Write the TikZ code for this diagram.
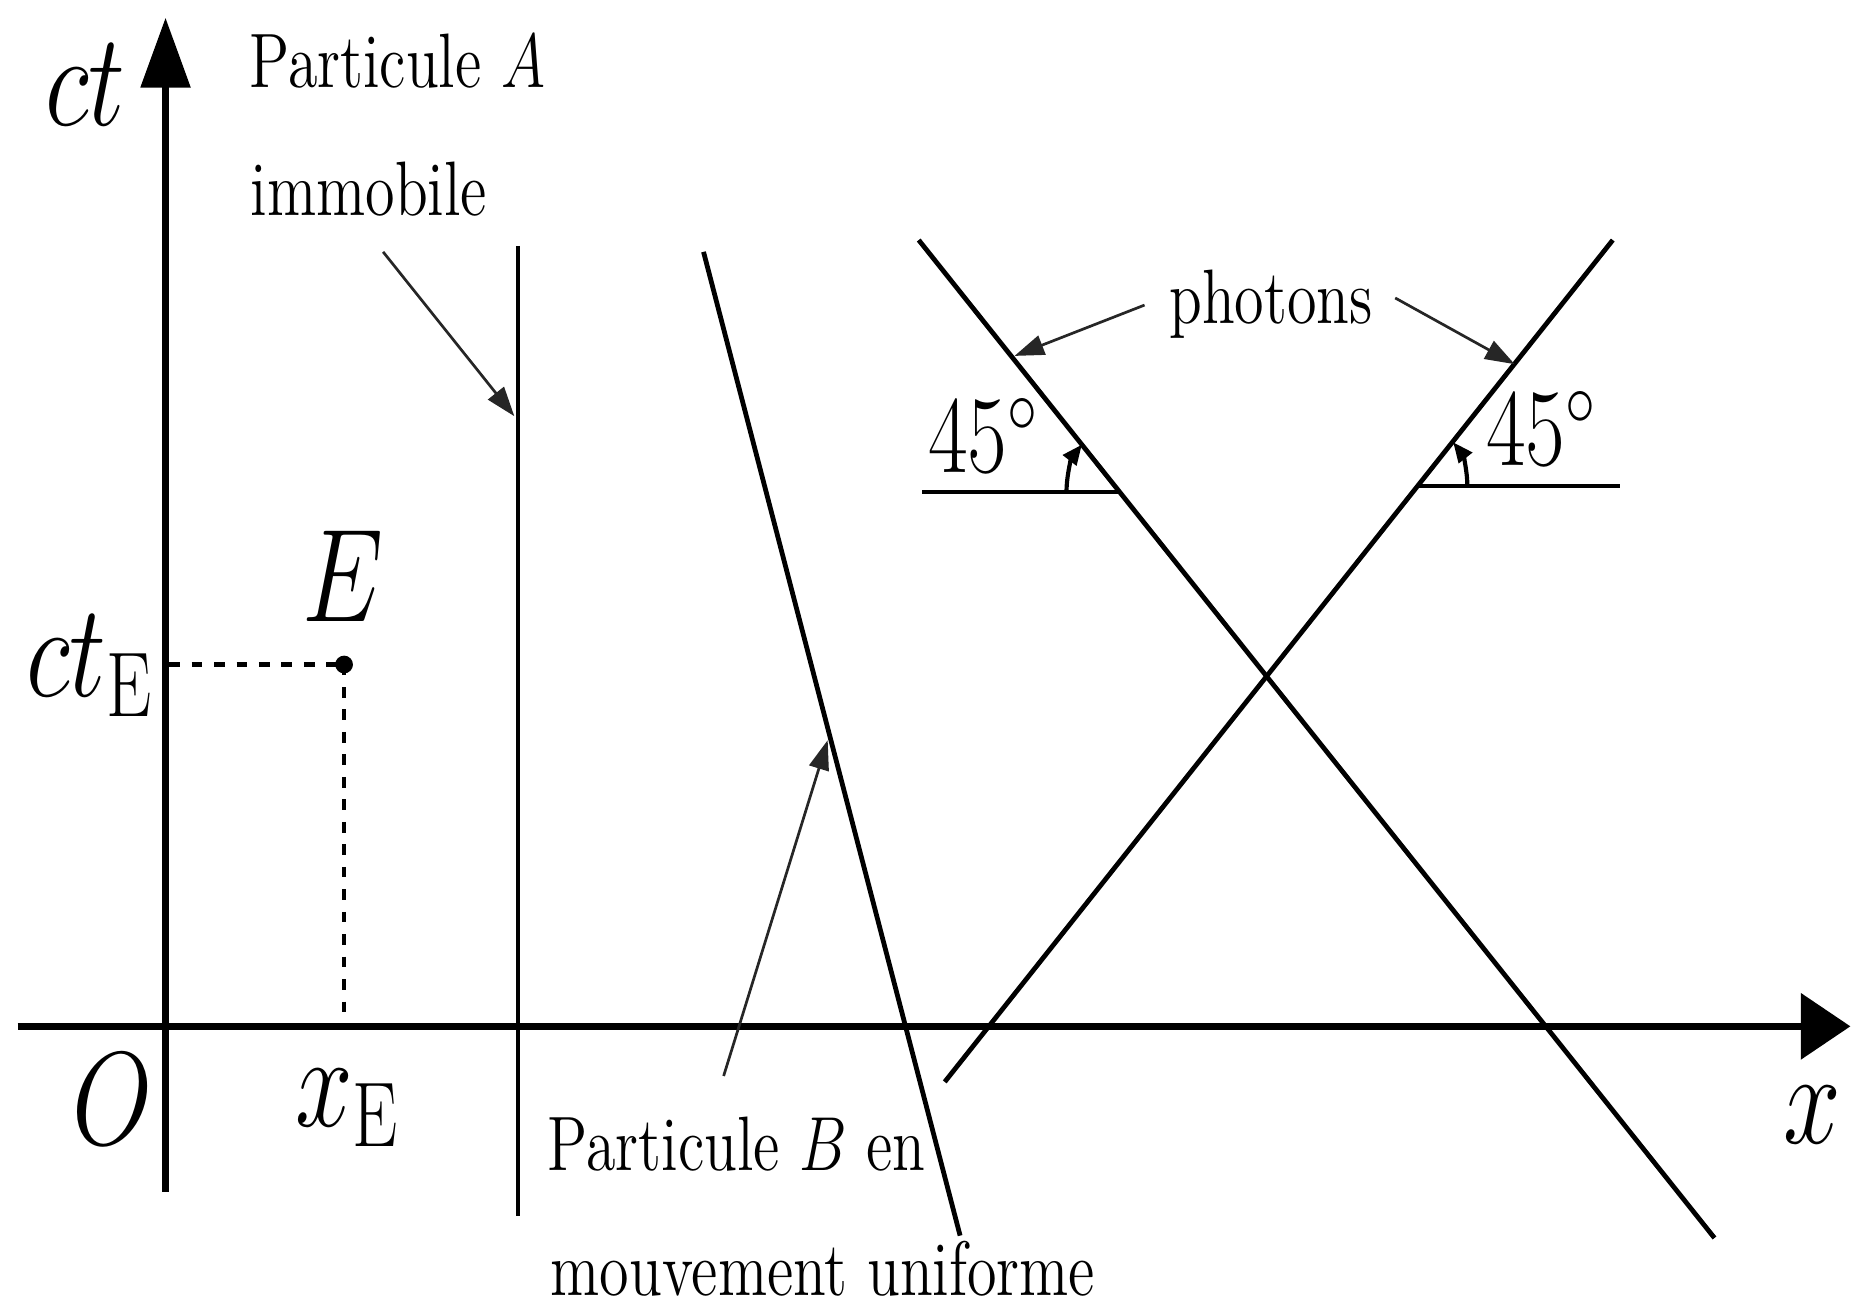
\documentclass[tikz,border=0pt]{standalone}
\usepackage{graphicx}
\usetikzlibrary{arrows.meta}
\newcommand{\vst}[1]{\scalebox{1}[1.28]{#1}}
\begin{document}
\begin{tikzpicture}[x=0.01cm,y=-0.01cm,
  axis/.style={line width=1.7pt},
  wline/.style={line width=1.15pt},
  note/.style={line width=0.65pt, black!85, -{Triangle[length=0.25cm,width=0.17cm]}},
  angarr/.style={line width=1pt, -{Triangle[length=0.17cm,width=0.14cm]}},
  dashline/.style={line width=1pt, dash pattern=on 0.09cm off 0.1cm},
  txt/.style={inner sep=0pt, font=\fontsize{14.5}{17}\selectfont},
  mlab/.style={inner sep=0pt, font=\fontsize{23}{27}\selectfont},
  ang/.style={inner sep=0pt, font=\fontsize{20}{24}\selectfont}]
\useasboundingbox (0,0) rectangle (1568,1105);

% axes
\coordinate (yb) at (140,1008);
\coordinate (yt) at (140,15);
\coordinate (xl) at (15,868);
\coordinate (xr) at (1565,868);
\draw[axis,-{Triangle[length=0.59cm,width=0.41cm]}] (yb) -- (yt);
\draw[axis,-{Triangle[length=0.42cm,width=0.55cm]}] (xl) -- (xr);

% event E
\coordinate (Ept) at (291,562);
\coordinate (Eyax) at (143,562);
\coordinate (Exax) at (291,866);
\draw[dashline] (Eyax) -- (Ept);
\draw[dashline] (Ept) -- (Exax);
\fill (Ept) circle[radius=0.075cm];

% world lines
\coordinate (At) at (438,208);
\coordinate (Ab) at (438,1028);
\coordinate (Bt) at (595,213);
\coordinate (Bb) at (812,1045);
\coordinate (P1t) at (777,203);
\coordinate (P1b) at (1450,1047);
\coordinate (P2b) at (799,915);
\coordinate (P2t) at (1364,203);
\draw[wline] (At) -- (Ab);
\draw[wline] (Bt) -- (Bb);
\draw[wline] (P1t) -- (P1b);
\draw[wline] (P2b) -- (P2t);

% 45 degree marks
\coordinate (H1a) at (780,416);
\coordinate (H1b) at (947,416);
\coordinate (H2a) at (1200,411);
\coordinate (H2b) at (1370,411);
\draw[wline] (H1a) -- (H1b);
\draw[wline] (H2a) -- (H2b);
\coordinate (arc1s) at (902,416);
\coordinate (arc1e) at (915,376);
\coordinate (arc2s) at (1241,411);
\coordinate (arc2e) at (1229,374);
\draw[angarr] (arc1s) .. controls (902,401) and (906.6,386.8) .. (arc1e);
\draw[angarr] (arc2s) .. controls (1241,397) and (1236.8,383.9) .. (arc2e);

% labels
\node[txt] (pa) at (336,52) {\vst{Particule $A$}};
\node[txt] (imm) at (312,160) {\vst{immobile}};
\node[txt] (pb) at (623,968) {\vst{Particule $B$ en}};
\node[txt] (mu) at (696,1073) {\vst{mouvement uniforme}};
\node[txt] (ph) at (1075,257) {\vst{photons}};
\node[ang] (a1) at (832,368) {\vst{$45^\circ$}};
\node[ang] (a2) at (1304,362) {\vst{$45^\circ$}};
\node[mlab] (ct) at (72,72) {\vst{$ct$}};
\node[mlab] (cte) at (76,563) {\vst{$ct_{\mathrm{E}}$}};
\node[mlab] (E) at (290,487) {\vst{$E$}};
\node[mlab] (O) at (95,930) {\vst{$O$}};
\node[mlab] (xe) at (294,937) {\vst{$x_{\mathrm{E}}$}};
\node[mlab] (x) at (1533,943) {\vst{$x$}};

% annotation arrows
\coordinate (imS) at (324,213);
\coordinate (imT) at (435,352);
\coordinate (bS) at (612,910);
\coordinate (bT) at (700,626);
\coordinate (phL) at (968,258);
\coordinate (phLT) at (858,301);
\coordinate (phR) at (1180,252);
\coordinate (phRT) at (1281,308);
\draw[note] (imS) -- (imT);
\draw[note] (bS) -- (bT);
\draw[note] (phL) -- (phLT);
\draw[note] (phR) -- (phRT);
\end{tikzpicture}
\end{document}
